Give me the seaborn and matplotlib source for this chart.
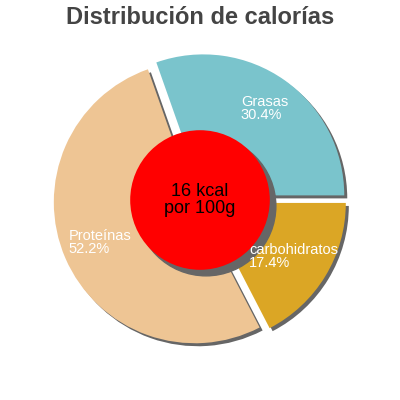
"""
plot.py - calorie distribution donut-style pie (recreated with seaborn/matplotlib).
Saves out.png, 400x400.
"""

import matplotlib
matplotlib.use("Agg")  # headless
import matplotlib.pyplot as plt
import matplotlib.patches as mpatches
import seaborn as sns

# ---------- data ----------
labels = ["Grasas", "Proteínas", "carbohidratos"]
percents = [30.4, 52.2, 17.4]
colors = ["#7ac4cc", "#eec594", "#dba625"]
center_lines = ["16 kcal", "por 100g"]
title = "Distribución de calorías"

sns.set_theme(style="white")
plt.rcParams["font.family"] = ["Liberation Sans", "DejaVu Sans"]

SHADOW = "#666666"
PX_PER_UNIT = 141.0  # pie radius in pixels
# Shadow offset is applied in the patch's own units scaled by dpi/72,
# so convert ~3 px into that
OFF = 3.0 / PX_PER_UNIT / (100 / 72)

fig = plt.figure(figsize=(4, 4), dpi=100)
ax = fig.add_axes([0, 0, 1, 1])

# slices, each pushed out a bit, with a grey drop shadow to the lower right
wedges, _ = ax.pie(
    percents,
    colors=colors,
    startangle=0,
    counterclock=True,
    explode=[0.04] * len(percents),
    wedgeprops={"linewidth": 0},
    shadow={"ox": OFF, "oy": -OFF, "facecolor": SHADOW, "edgecolor": SHADOW,
            "alpha": 1.0},
)

# red centre disc with its own shadow
disc = mpatches.Circle((0, 0), 0.495, facecolor="#ff0000", edgecolor="none", zorder=5)
ax.add_patch(disc)
# Circle's patch transform is scaled by its radius
disc_off = OFF / 0.495
disc_shadow = mpatches.Shadow(disc, disc_off, -disc_off, facecolor=SHADOW,
                              edgecolor=SHADOW, alpha=1.0, zorder=4.9)
ax.add_patch(disc_shadow)
ax.text(0, 0, "\n".join(center_lines), ha="center", va="center",
        fontsize=13, color="black", linespacing=1.0, zorder=6)

# slice labels (white, left aligned)
label_pos = [(0.29, 0.65), (-0.93, -0.30), (0.35, -0.40)]
for name, pct, (x, y) in zip(labels, percents, label_pos):
    ax.text(x, y, f"{name}\n{pct:.1f}%", ha="left", va="center",
            fontsize=10.5, color="white", linespacing=0.95, zorder=6)

half = 200 / PX_PER_UNIT
ax.set_xlim(-half, half)
ax.set_ylim(-half, half)
ax.set_aspect("equal")
ax.axis("off")

fig.text(0.5, 1 - 18 / 400, title, ha="center", va="center",
         fontsize=17, fontweight="bold", color="#444444")

fig.savefig("out.png", dpi=100)
plt.close(fig)
